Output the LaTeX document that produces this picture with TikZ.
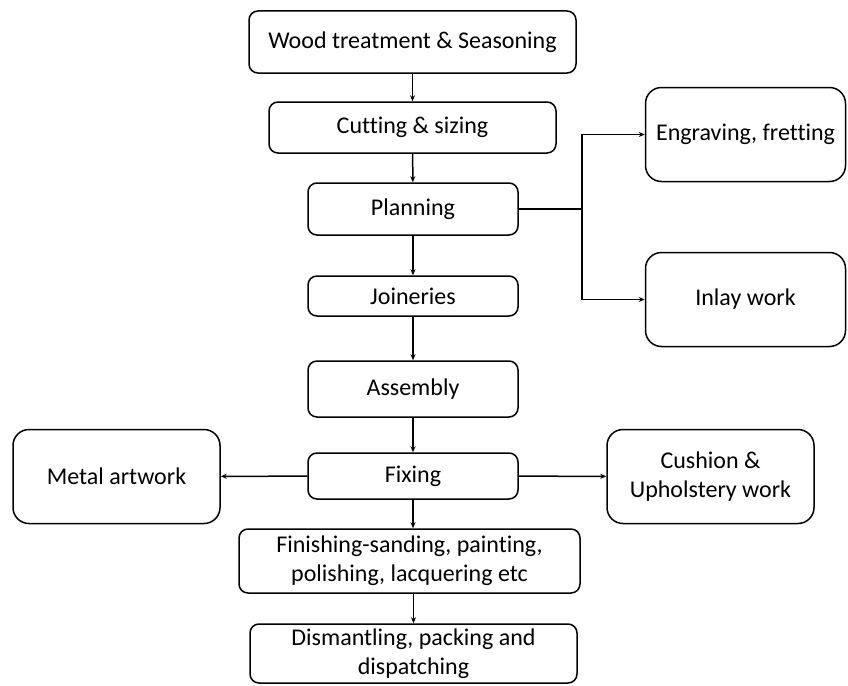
\documentclass[tikz,border=0pt]{standalone}
\usepackage{fontspec}
\setmainfont{Carlito}[Ligatures=NoCommon]
\usepackage{tikz}
\usetikzlibrary{arrows.meta, positioning}

\begin{document}
\begin{tikzpicture}[x=1pt, y=1pt,
      box/.style={draw, line width=1.5pt, rounded corners=9pt, align=center, inner sep=0pt,
        font=\fontsize{24}{29}\selectfont},
      sidebox/.style={box, rounded corners=16pt, minimum width=207pt, minimum height=94pt},
      flow/.style={line width=1.5pt, -{Stealth[length=6pt, width=5pt]}}]
    \useasboundingbox (0,0) rectangle (848,-685);
    % main column
    \node[box, minimum width=327pt, minimum height=62pt] (wood)   at (412.5,-42)  {Wood treatment \& Seasoning};
    \node[box, minimum width=287pt, minimum height=51pt] (cut)    at (412.5,-127.5) {Cutting \& sizing};
    \node[box, minimum width=210pt, minimum height=52pt] (plan)   at (413,-209)   {Planning};
    \node[box, minimum width=210pt, minimum height=40pt] (join)   at (413,-296)   {Joineries};
    \node[box, minimum width=210pt, minimum height=56pt] (assem)  at (413,-389)   {Assembly};
    \node[box, minimum width=210pt, minimum height=46pt] (fix)    at (413,-476)   {Fixing};
    \node[box, minimum width=341pt, minimum height=64pt] (finish) at (409.5,-561) {Finishing-sanding, painting,\\ polishing, lacquering etc};
    \node[box, minimum width=327pt, minimum height=59pt] (dism)   at (413.5,-653.5) {Dismantling, packing and\\ dispatching};
    % side boxes
    \node[sidebox, minimum width=200pt] (engr)  at (745.5,-134.5) {Engraving, fretting};
    \node[sidebox, minimum width=200pt] (inlay) at (745.5,-299.5) {Inlay work};
    \node[sidebox] (metal) at (116.5,-476.5) {Metal artwork};
    \node[sidebox] (cush)  at (710.5,-476.5) {Cushion \&\\ Upholstery work};
    % connectors
    \draw[flow] (wood) -- (cut);
    \draw[flow] (cut) -- (plan);
    \draw[flow] (plan) -- (join);
    \draw[flow] (join) -- (assem);
    \draw[flow] (assem) -- (fix);
    \draw[flow] (fix.south) -- (fix.south |- finish.north);
    \draw[flow] (finish.south -| dism.north) -- (dism.north);
    \draw[line width=1.5pt] (plan.east) -- ++(63,0) coordinate (br);
    \draw[flow] (br) |- (engr.west);
    \draw[flow] (br) |- (inlay.west);
    \draw[flow] (fix) -- (metal);
    \draw[flow] (fix) -- (cush);
  \end{tikzpicture}
\end{document}
